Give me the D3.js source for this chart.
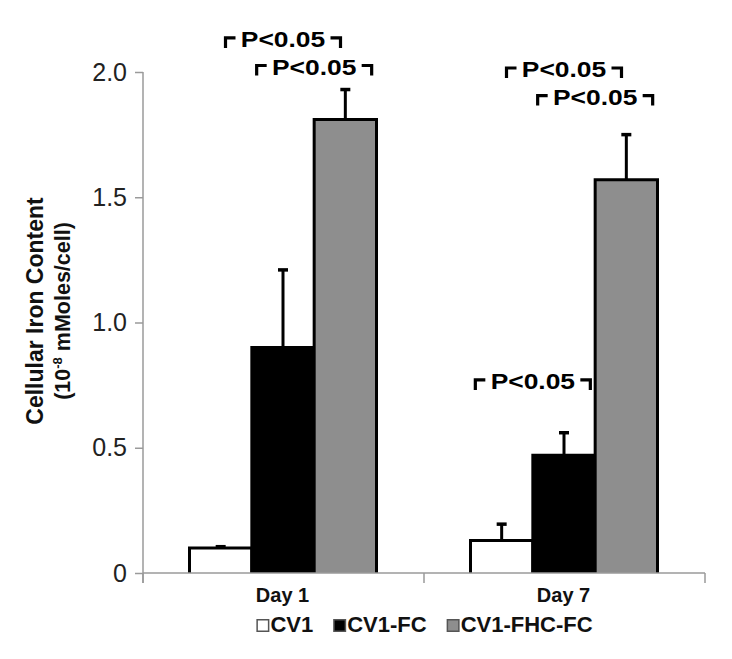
<!DOCTYPE html>
<html>
<head>
<meta charset="utf-8">
<script src="https://cdn.jsdelivr.net/npm/d3@7/dist/d3.min.js"></script>
<style>
  html, body { margin: 0; padding: 0; background: #fff; }
  svg { display: block; }
  text { font-family: "Liberation Sans", Arial, sans-serif; }
</style>
</head>
<body>
<svg id="chart" width="732" height="659"></svg>
<script>
// ---- data ----
const categories = ["Day 1", "Day 7"];
const series = ["CV1", "CV1-FC", "CV1-FHC-FC"];
const cv1Values = [0.10, 0.13];
const cv1Errors = [0.005, 0.065];
const cv1fcValues = [0.90, 0.47];
const cv1fcErrors = [0.31, 0.09];
const cv1fhcfcValues = [1.81, 1.57];
const cv1fhcfcErrors = [0.12, 0.18];
const yTicks = [0, 0.5, 1.0, 1.5, 2.0];
const yTickLabels = ["0", "0.5", "1.0", "1.5", "2.0"];
const annotations = [
  { day: "Day 1", from: "CV1", to: "CV1-FHC-FC", level: 2.10, label: "P<0.05" },
  { day: "Day 1", from: "CV1-FC", to: "CV1-FHC-FC", level: 1.99, label: "P<0.05" },
  { day: "Day 7", from: "CV1", to: "CV1-FHC-FC", level: 1.98, label: "P<0.05" },
  { day: "Day 7", from: "CV1-FC", to: "CV1-FHC-FC", level: 1.87, label: "P<0.05" },
  { day: "Day 7", from: "CV1", to: "CV1-FC", level: 0.735, label: "P<0.05" }
];

(function () {
const valueTable = [cv1Values, cv1fcValues, cv1fhcfcValues];
const errorTable = [cv1Errors, cv1fcErrors, cv1fhcfcErrors];
const fills = { "CV1": "#ffffff", "CV1-FC": "#000000", "CV1-FHC-FC": "#8e8e8e" };

const rows = [];
categories.forEach((c, ci) => {
  series.forEach((s, si) => {
    rows.push({ day: c, series: s, value: valueTable[si][ci], err: errorTable[si][ci] });
  });
});

// ---- layout ----
const svg = d3.select("#chart");
const mLeft = 143, mRight = 705, mTop = 72, mBottom = 573;
const axisColor = "#9a9a9a";

const x0 = d3.scaleBand().domain(categories).range([mLeft, mRight]).padding(0);
const x1 = d3.scaleBand().domain(series).range([46.5, 233.5]).padding(0);
const y = d3.scaleLinear().domain([0, 2.0]).range([mBottom, mTop]);

// bars (no bottom stroke)
const barG = svg.append("g");
barG.selectAll("path.bar").data(rows).join("path")
  .attr("class", "bar")
  .attr("d", d => {
    const xa = x0(d.day) + x1(d.series);
    const xb = xa + x1.bandwidth();
    return `M${xa},${mBottom}V${y(d.value)}H${xb}V${mBottom}`;
  })
  .attr("fill", d => fills[d.series])
  .attr("stroke", "#000")
  .attr("stroke-width", 3)
  .attr("stroke-linejoin", "miter");

// error bars (upper only)
const errG = svg.append("g");
rows.forEach(d => {
  const cx = x0(d.day) + x1(d.series) + x1.bandwidth() / 2;
  const yt = y(d.value + d.err);
  errG.append("line")
    .attr("x1", cx).attr("x2", cx)
    .attr("y1", y(d.value)).attr("y2", yt)
    .attr("stroke", "#000").attr("stroke-width", 3);
  errG.append("line")
    .attr("x1", cx - 5).attr("x2", cx + 5)
    .attr("y1", yt).attr("y2", yt)
    .attr("stroke", "#000").attr("stroke-width", 3.5);
});

// y axis
const yAxis = d3.axisLeft(y).tickValues(yTicks)
  .tickFormat((d, i) => yTickLabels[i]).tickSize(8).tickPadding(8).tickSizeOuter(0);
const yg = svg.append("g").attr("transform", `translate(${mLeft},0)`).call(yAxis);
yg.select(".domain").attr("stroke", axisColor).attr("stroke-width", 1.5)
  .attr("d", `M0,${mTop}V${mBottom + 10}`);
yg.selectAll(".tick line").attr("stroke", axisColor).attr("stroke-width", 1.5);
yg.selectAll(".tick text").attr("font-size", 25).attr("fill", "#222")
  .attr("font-family", "'Liberation Sans', Arial, sans-serif");

// x axis
const xg = svg.append("g");
xg.append("line").attr("x1", mLeft).attr("x2", mRight).attr("y1", mBottom).attr("y2", mBottom)
  .attr("stroke", axisColor).attr("stroke-width", 1.5);
const boundaries = categories.map(c => x0(c)).concat([x0(categories[categories.length - 1]) + x0.bandwidth()]);
xg.selectAll("line.tk").data(boundaries).join("line").attr("class", "tk")
  .attr("x1", d => d).attr("x2", d => d).attr("y1", mBottom).attr("y2", mBottom + 10)
  .attr("stroke", axisColor).attr("stroke-width", 1.5);
xg.selectAll("text.cat").data(categories).join("text").attr("class", "cat")
  .attr("x", d => x0(d) + x0.bandwidth() / 2 - 1)
  .attr("y", 602)
  .attr("text-anchor", "middle")
  .attr("font-size", 20).attr("font-weight", "bold").attr("fill", "#111")
  .text(d => d);

// y title
const ytG = svg.append("g");
ytG.append("text")
  .attr("transform", "translate(43,311) rotate(-90)")
  .attr("text-anchor", "middle")
  .attr("font-size", 23).attr("font-weight", "bold").attr("fill", "#111")
  .text("Cellular Iron Content");
const t2 = ytG.append("text")
  .attr("transform", "translate(70,311) rotate(-90)")
  .attr("text-anchor", "middle")
  .attr("font-size", 21.5).attr("font-weight", "bold").attr("fill", "#111");
t2.append("tspan").text("(10");
t2.append("tspan").attr("font-size", 13).attr("dy", -8).text("-8");
t2.append("tspan").attr("dy", 8).text(" mMoles/cell)");

// annotations
const annG = svg.append("g");
annotations.forEach(a => {
  const cx = x0(a.day) + (x1(a.from) + x1(a.to) + x1.bandwidth()) / 2;
  const by = y(a.level);
  const half = 57.5;
  annG.append("path")
    .attr("d", `M${cx - half},${by + 1}V${by - 9}H${cx - half + 10}`)
    .attr("fill", "none").attr("stroke", "#000").attr("stroke-width", 3.2);
  annG.append("path")
    .attr("d", `M${cx + half - 10},${by - 9}H${cx + half}V${by + 1}`)
    .attr("fill", "none").attr("stroke", "#000").attr("stroke-width", 3.2);
  annG.append("text")
    .attr("transform", `translate(${cx},${by}) scale(1.2,1)`)
    .attr("text-anchor", "middle")
    .attr("font-size", 22).attr("font-weight", "bold").attr("fill", "#000")
    .text(a.label);
});

// legend
const legG = svg.append("g");
let lx = 0;
series.forEach((s) => {
  const g = legG.append("g").attr("transform", `translate(${lx},0)`);
  g.append("rect").attr("x", 0.75).attr("y", 619.75).attr("width", 11.5).attr("height", 11.5)
    .attr("fill", fills[s]).attr("stroke", "#555").attr("stroke-width", 1.5);
  const t = g.append("text").attr("x", 14).attr("y", 632)
    .attr("font-size", 22).attr("font-weight", "bold").attr("fill", "#111").text(s);
  const w = 14 + t.node().getComputedTextLength();
  lx += w + 20;
});
const totalW = lx - 20;
const center = (mLeft + mRight) / 2 + 0.5;
legG.attr("transform", `translate(${center - totalW / 2},0)`);
})();
</script>
</body>
</html>
